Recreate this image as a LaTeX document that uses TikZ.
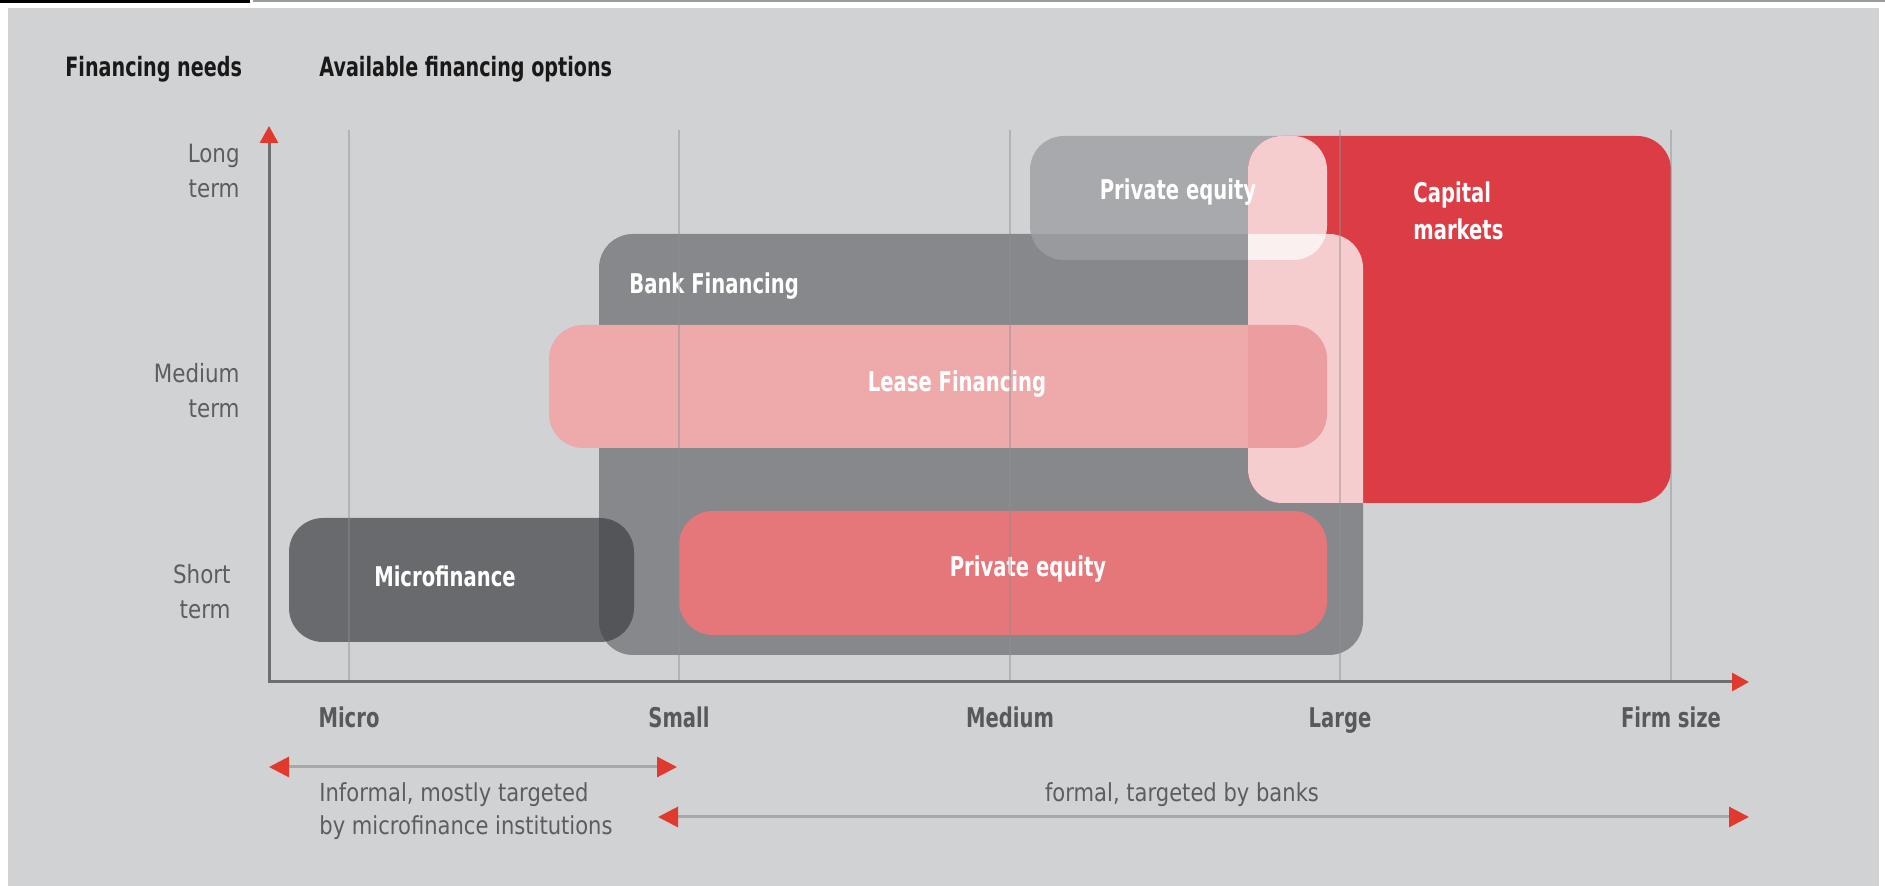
\documentclass[tikz,border=0pt]{standalone}
\usepackage{fontspec}
\setmainfont{DejaVu Sans}[FakeStretch=0.85]
\newfontfamily\labfont{DejaVu Sans}[FakeStretch=0.72]
\usetikzlibrary{arrows.meta}

\definecolor{panel}{HTML}{D1D2D4}
\definecolor{topline}{HTML}{9A9B9D}
\definecolor{bankgray}{HTML}{87888B}
\definecolor{microgray}{HTML}{414246}
\definecolor{pegray}{HTML}{9E9FA2}
\definecolor{leasepink}{HTML}{EEAAAB}
\definecolor{leasedeep}{HTML}{EC9D9F}
\definecolor{pered}{HTML}{E5777A}
\definecolor{capred}{HTML}{DC3D45}
\definecolor{palepink}{HTML}{F5CDCF}
\definecolor{palewhite}{HTML}{FBF0F0}
\definecolor{axisgray}{HTML}{6D6E71}
\definecolor{gridgray}{HTML}{8E8F92}
\definecolor{rangegray}{HTML}{A7A8AA}
\definecolor{arrowred}{HTML}{E03A2F}
\definecolor{labgray}{HTML}{58595C}
\definecolor{txtgray}{HTML}{5C5D61}

\tikzset{
  box/.style={rounded corners=17pt},
  boxlabel/.style={text=white, font=\labfont\bfseries\fontsize{13.6}{18.6}\selectfont, inner sep=0pt},
  header/.style={text=black!90, font=\labfont\bfseries\fontsize{13.3}{16}\selectfont, inner sep=0pt, anchor=west},
  sizelabel/.style={text=labgray, font=\labfont\bfseries\fontsize{13.6}{16}\selectfont, inner sep=0pt, anchor=base},
  termlabel/.style={text=txtgray, font=\fontsize{12.6}{17.5}\selectfont, inner sep=0pt, align=right, anchor=east},
  rangetext/.style={text=txtgray, font=\fontsize{12.4}{16.3}\selectfont, inner sep=0pt},
  axisline/.style={draw=axisgray, line width=1.5pt},
  gridline/.style={draw=gridgray, line width=0.7pt, opacity=0.45},
  rangeline/.style={draw=rangegray, line width=1.5pt},
  redtip/.tip={Triangle[length=10pt, width=10pt, color=arrowred]},
  axistip/.tip={Triangle[length=8.5pt, width=9pt, color=arrowred]},
}

\begin{document}
\begin{tikzpicture}[x=0.5pt, y=-0.5pt]
\useasboundingbox (0,0) rectangle (1885,886);

% page and panel
\fill[white] (0,0) rectangle (1885,886);
\fill[panel] (8,8) rectangle (1879,886);
\fill[black] (0,0) rectangle (250,3.5);
\fill[topline] (253,0) rectangle (1885,2);

% corners of the option boxes
\coordinate (bankA) at (599,234);  \coordinate (bankB) at (1363,655);
\coordinate (microA) at (289,518); \coordinate (microB) at (634,642);
\coordinate (peloA) at (679,511);  \coordinate (peloB) at (1327,635);
\coordinate (leaseA) at (549,325); \coordinate (leaseB) at (1327,448);
\coordinate (pehiA) at (1030,136); \coordinate (pehiB) at (1327,260);
\coordinate (capA) at (1248,136);  \coordinate (capB) at (1671,503);

% option boxes
\fill[bankgray, box] (bankA) rectangle (bankB);
\fill[microgray, opacity=0.72, box] (microA) rectangle (microB);
\fill[pered, box] (peloA) rectangle (peloB);
\fill[leasepink, box] (leaseA) rectangle (leaseB);
\fill[pegray, opacity=0.8, box] (pehiA) rectangle (pehiB);
\fill[capred, box] (capA) rectangle (capB);

% overlaps inside the capital markets box
\begin{scope}
  \clip[box] (capA) rectangle (capB);
  \fill[palepink, box] (bankA) rectangle (bankB);
  \fill[palepink, box] (pehiA) rectangle (pehiB);
  \fill[leasedeep, box] (leaseA) rectangle (leaseB);
\end{scope}
\begin{scope}
  \clip[box] (capA) rectangle (capB);
  \clip[box] (bankA) rectangle (bankB);
  \fill[palewhite, box] (pehiA) rectangle (pehiB);
\end{scope}

% box labels
\node[boxlabel] (lmicro) at (445,576) {Microfinance};
\node[boxlabel, anchor=west] (lbank) at (629,286) {Bank Financing};
\node[boxlabel] (llease) at (957,384) {Lease Financing};
\node[boxlabel] (lpelo) at (1028,569) {Private equity};
\node[boxlabel] (lpehi) at (1178,192) {Private equity};
\node[boxlabel, anchor=west, align=left] (lcap) at (1413,211) {Capital\\markets};

% size grid
\coordinate (gMicro) at (349,682);  \coordinate (gMicroT) at (349,130);
\coordinate (gSmall) at (679,682);  \coordinate (gSmallT) at (679,130);
\coordinate (gMedium) at (1010,682); \coordinate (gMediumT) at (1010,130);
\coordinate (gLarge) at (1340,682); \coordinate (gLargeT) at (1340,130);
\coordinate (gFirm) at (1671,682);  \coordinate (gFirmT) at (1671,130);
\foreach \g in {Micro,Small,Medium,Large,Firm}
  \draw[gridline] (g\g) -- (g\g T);

% axes
\coordinate (ytip) at (269,126);
\coordinate (origin) at (269,682);
\coordinate (xtip) at (1749,682);
\draw[axisline, {axistip}-{axistip}] (ytip) -- (origin) -- (xtip);

% headings
\node[header] (hneeds) at (65,69) {Financing needs};
\node[header] (hopts) at (319,69) {Available financing options};

% term labels
\node[termlabel] (tlong) at (240,171) {Long\\term};
\node[termlabel] (tmed) at (240,391) {Medium\\term};
\node[termlabel] (tshort) at (231,592) {Short\\term};

% size labels
\node[sizelabel] (sMicro) at (349,728) {Micro};
\node[sizelabel] (sSmall) at (679,728) {Small};
\node[sizelabel] (sMedium) at (1010,728) {Medium};
\node[sizelabel] (sLarge) at (1340,728) {Large};
\node[sizelabel] (sFirm) at (1671,728) {Firm size};

% target ranges
\coordinate (r1a) at (269,767); \coordinate (r1b) at (677,767);
\coordinate (r2a) at (658,817); \coordinate (r2b) at (1749,817);
\draw[rangeline, {redtip}-{redtip}] (r1a) -- (r1b);
\draw[rangeline, {redtip}-{redtip}] (r2a) -- (r2b);
\node[rangetext, anchor=west, align=left] (rinformal) at (319,811)
  {Informal, mostly targeted\\by microfinance institutions};
\node[rangetext] (rformal) at (1182,795) {formal, targeted by banks};
\end{tikzpicture}
\end{document}
